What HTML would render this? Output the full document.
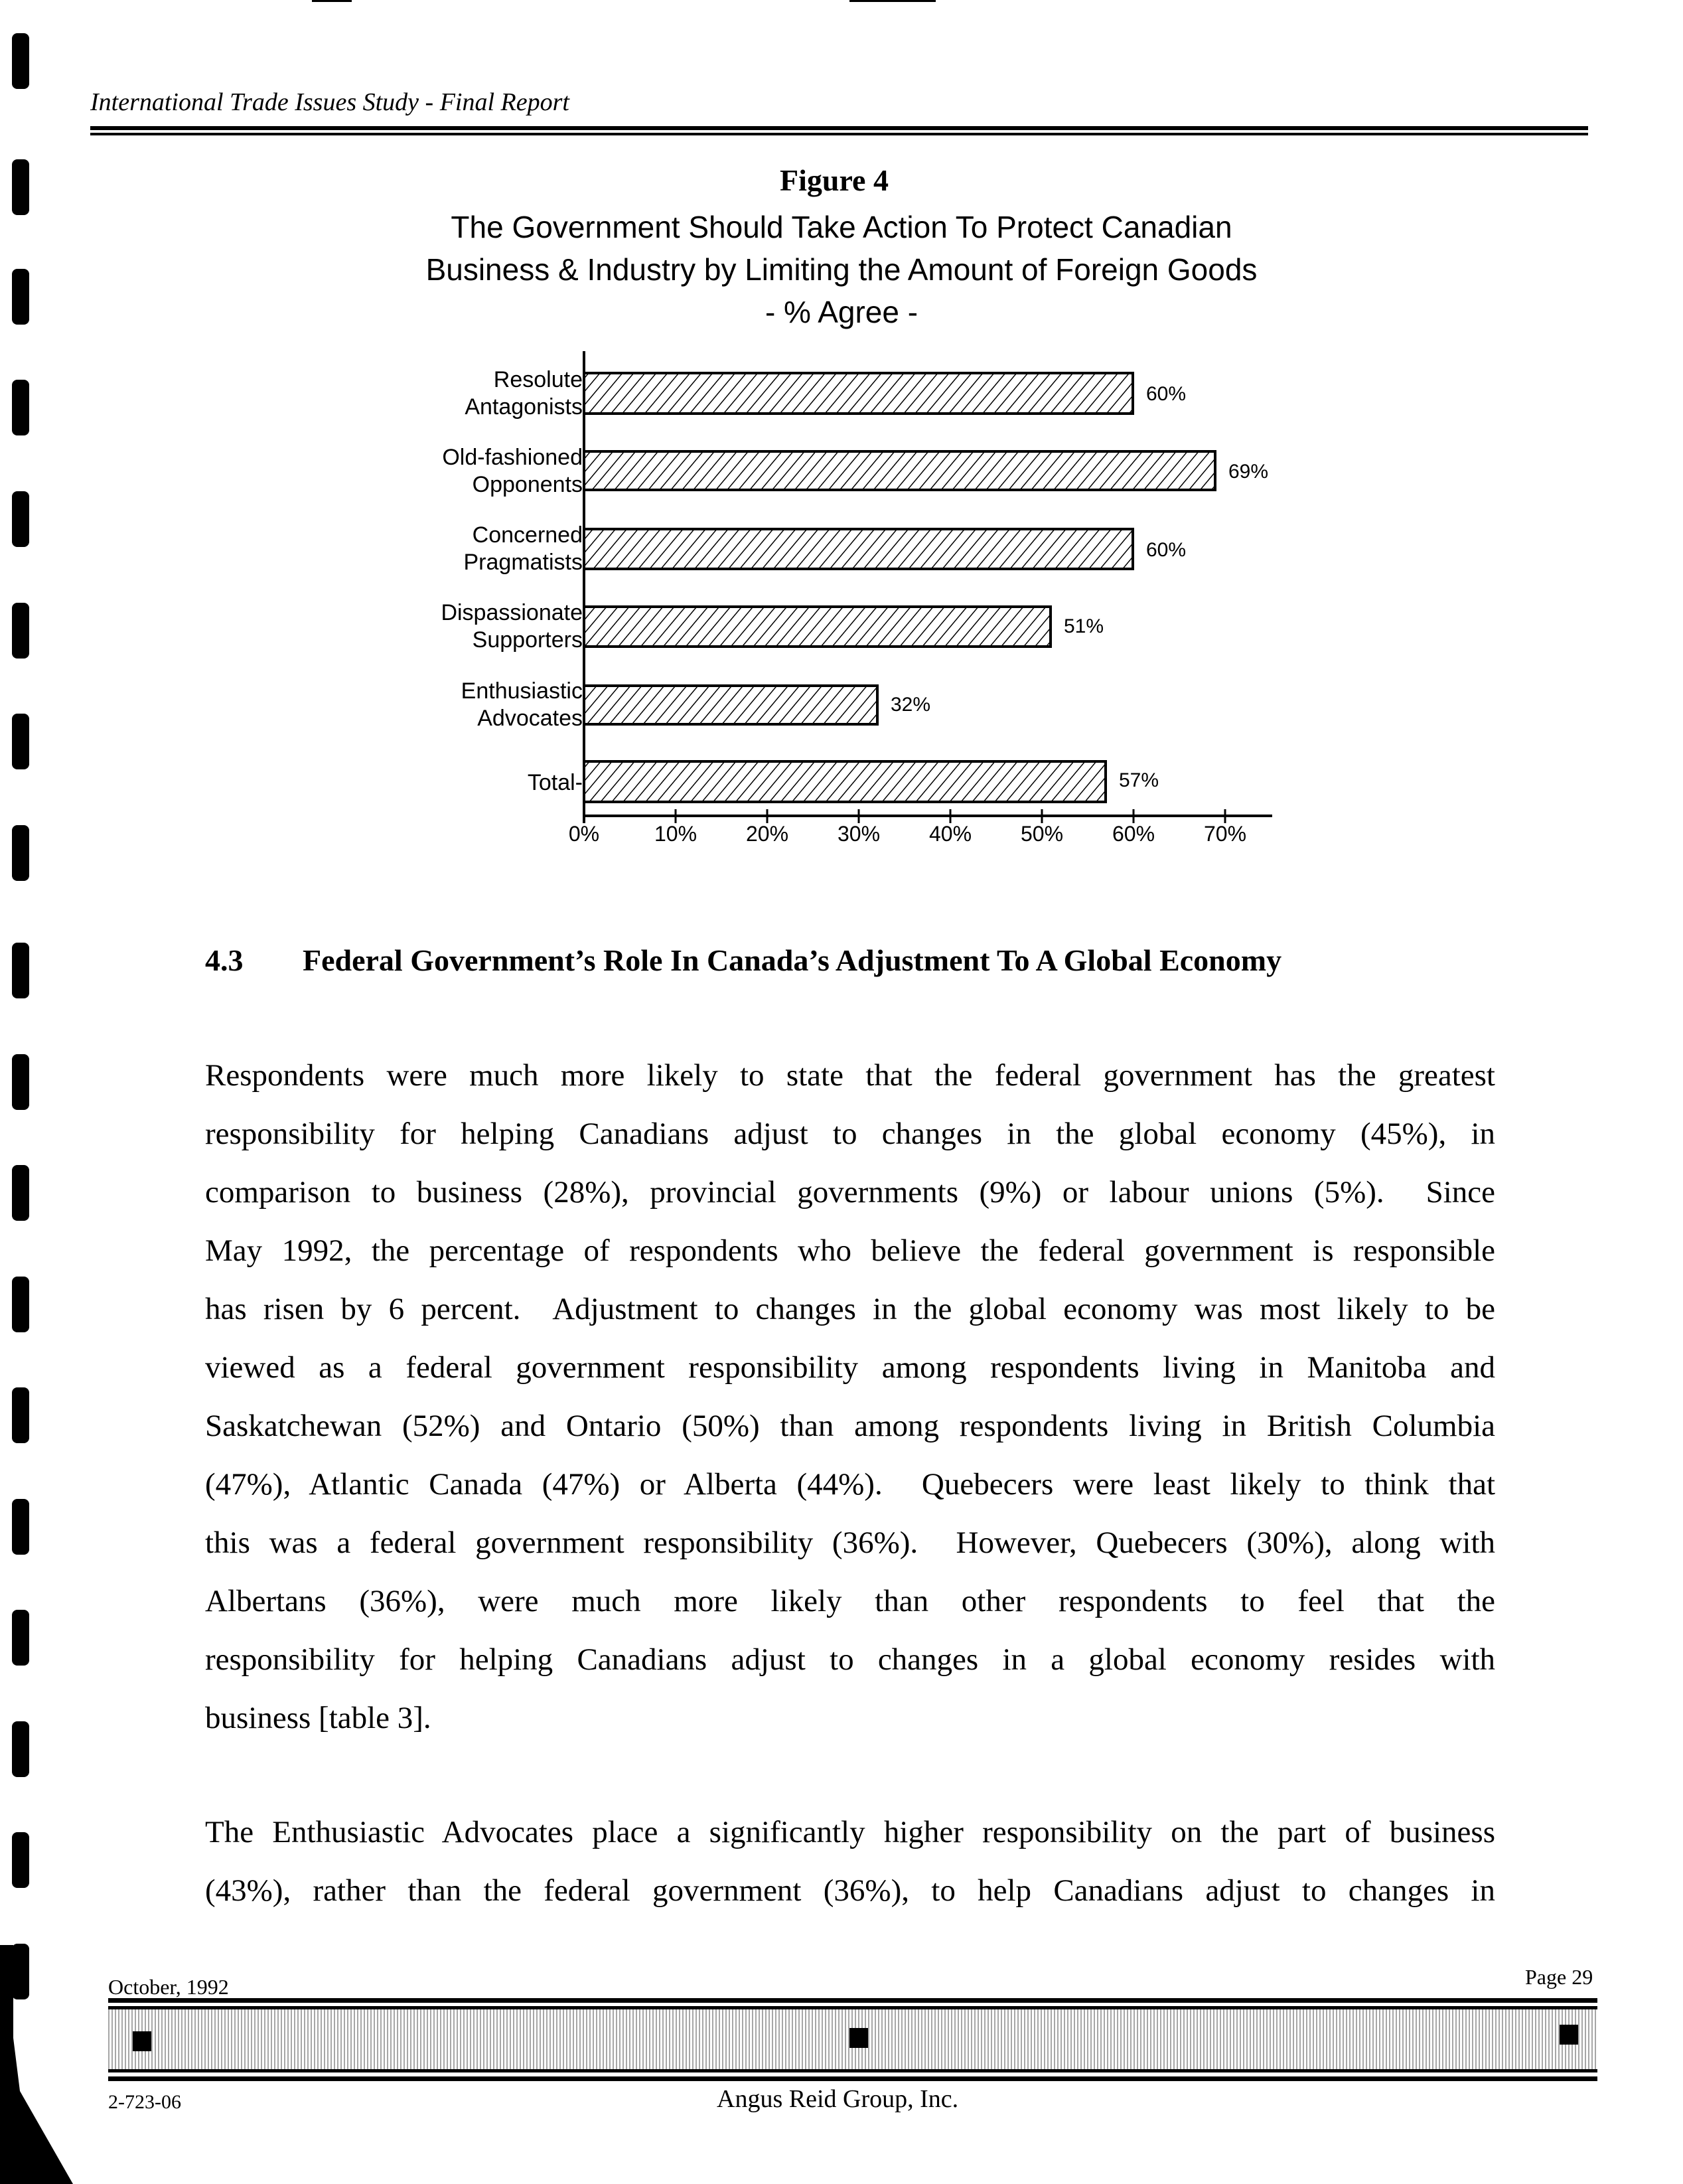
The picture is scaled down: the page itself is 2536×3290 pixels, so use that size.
<!DOCTYPE html>
<html><head><meta charset="utf-8"><style>
body{margin:0;width:2536px;height:3290px;background:#fff;position:relative;overflow:hidden;font-family:"Liberation Serif",serif;color:#000}
.a{position:absolute;white-space:nowrap}
.bm{position:absolute;left:18px;width:26px;height:84px;background:#000;border-radius:8px}
.s{font-family:"Liberation Sans",sans-serif}
.p{position:absolute;left:309px;width:1944px;font-size:47px;text-align:justify;text-align-last:justify;white-space:nowrap;line-height:88px}
</style></head><body>
<div class="bm" style="top:50px"></div><div class="bm" style="top:240px"></div><div class="bm" style="top:405px"></div><div class="bm" style="top:572px"></div><div class="bm" style="top:740px"></div><div class="bm" style="top:908px"></div><div class="bm" style="top:1075px"></div><div class="bm" style="top:1243px"></div><div class="bm" style="top:1420px"></div><div class="bm" style="top:1588px"></div><div class="bm" style="top:1755px"></div><div class="bm" style="top:1923px"></div><div class="bm" style="top:2090px"></div><div class="bm" style="top:2258px"></div><div class="bm" style="top:2425px"></div><div class="bm" style="top:2593px"></div><div class="bm" style="top:2760px"></div><div class="bm" style="top:2928px"></div>
<div class="a" style="left:470px;top:0;width:60px;height:3px;background:#000"></div>
<div class="a" style="left:1280px;top:0;width:130px;height:3px;background:#000"></div>
<div class="a" style="left:136px;top:132px;font-size:38px;font-style:italic">International Trade Issues Study - Final Report</div>
<div class="a" style="left:136px;top:190px;width:2257px;height:6px;background:#000"></div>
<div class="a" style="left:136px;top:200px;width:2257px;height:4px;background:#000"></div>
<div class="a" style="left:1175px;top:245px;font-size:46px;font-weight:bold">Figure 4</div>
<div class="a s" style="left:0;width:2536px;text-align:center;top:310px;font-size:46px;line-height:64px;white-space:normal">The Government Should Take Action To Protect Canadian<br>Business &amp; Industry by Limiting the Amount of Foreign Goods<br>- % Agree -</div>
<svg class="a" style="left:0;top:0" width="2536" height="1300">
<defs><pattern id="h" width="13" height="13" patternUnits="userSpaceOnUse" patternTransform="rotate(40)"><rect width="13" height="13" fill="#fff"/><line x1="0" y1="0" x2="0" y2="13" stroke="#000" stroke-width="3"/></pattern></defs>
<g stroke="#000" stroke-width="4" fill="url(#h)">
<rect x="880" y="562" width="827" height="61"/>
<rect x="880" y="680" width="951" height="58"/>
<rect x="880" y="797" width="827" height="60"/>
<rect x="880" y="914" width="703" height="60"/>
<rect x="880" y="1033" width="442" height="58"/>
<rect x="880" y="1147" width="786" height="61"/>
</g>
<line x1="880" y1="529" x2="880" y2="1240" stroke="#000" stroke-width="4"/>
<line x1="880" y1="1229" x2="1917" y2="1229" stroke="#000" stroke-width="4"/>
<g stroke="#000" stroke-width="3"><line x1="1018" y1="1219" x2="1018" y2="1240"/><line x1="1156" y1="1219" x2="1156" y2="1240"/><line x1="1294" y1="1219" x2="1294" y2="1240"/><line x1="1432" y1="1219" x2="1432" y2="1240"/><line x1="1570" y1="1219" x2="1570" y2="1240"/><line x1="1708" y1="1219" x2="1708" y2="1240"/><line x1="1846" y1="1219" x2="1846" y2="1240"/></g>
<g font-family="Liberation Sans, sans-serif" font-size="34" text-anchor="end">
<text x="878" y="583">Resolute</text><text x="878" y="624">Antagonists</text>
<text x="878" y="700">Old-fashioned</text><text x="878" y="741">Opponents</text>
<text x="878" y="817">Concerned</text><text x="878" y="858">Pragmatists</text>
<text x="878" y="934">Dispassionate</text><text x="878" y="975">Supporters</text>
<text x="878" y="1052">Enthusiastic</text><text x="878" y="1093">Advocates</text>
<text x="878" y="1190">Total-</text>
</g>
<g font-family="Liberation Sans, sans-serif" font-size="30">
<text x="1727" y="603">60%</text><text x="1851" y="720">69%</text><text x="1727" y="838">60%</text><text x="1603" y="953">51%</text><text x="1342" y="1071">32%</text><text x="1686" y="1185">57%</text>
</g>
<g font-family="Liberation Sans, sans-serif" font-size="32" text-anchor="middle">
<text x="880" y="1267">0%</text><text x="1018" y="1267">10%</text><text x="1156" y="1267">20%</text><text x="1294" y="1267">30%</text><text x="1432" y="1267">40%</text><text x="1570" y="1267">50%</text><text x="1708" y="1267">60%</text><text x="1846" y="1267">70%</text>
</g>
</svg>
<div class="a" style="left:309px;top:1420px;font-size:46px;font-weight:bold">4.3</div>
<div class="a" style="left:456px;top:1420px;font-size:46px;font-weight:bold">Federal Government’s Role In Canada’s Adjustment To A Global Economy</div>
<div class="p" style="top:1576px">Respondents were much more likely to state that the federal government has the greatest</div>
<div class="p" style="top:1664px">responsibility for helping Canadians adjust to changes in the global economy (45%), in</div>
<div class="p" style="top:1752px">comparison to business (28%), provincial governments (9%) or labour unions (5%).&nbsp; Since</div>
<div class="p" style="top:1840px">May 1992, the percentage of respondents who believe the federal government is responsible</div>
<div class="p" style="top:1928px">has risen by 6 percent.&nbsp; Adjustment to changes in the global economy was most likely to be</div>
<div class="p" style="top:2016px">viewed as a federal government responsibility among respondents living in Manitoba and</div>
<div class="p" style="top:2104px">Saskatchewan (52%) and Ontario (50%) than among respondents living in British Columbia</div>
<div class="p" style="top:2192px">(47%), Atlantic Canada (47%) or Alberta (44%).&nbsp; Quebecers were least likely to think that</div>
<div class="p" style="top:2280px">this was a federal government responsibility (36%).&nbsp; However, Quebecers (30%), along with</div>
<div class="p" style="top:2368px">Albertans (36%), were much more likely than other respondents to feel that the</div>
<div class="p" style="top:2456px">responsibility for helping Canadians adjust to changes in a global economy resides with</div>
<div class="a" style="left:309px;top:2544px;font-size:47px;line-height:88px">business [table 3].</div>
<div class="p" style="top:2716px">The Enthusiastic Advocates place a significantly higher responsibility on the part of business</div>
<div class="p" style="top:2804px">(43%), rather than the federal government (36%), to help Canadians adjust to changes in</div>
<div class="a" style="left:163px;top:2975px;font-size:32px">October, 1992</div>
<div class="a" style="left:2298px;top:2960px;font-size:32px">Page 29</div>
<div class="a" style="left:163px;top:3010px;width:2244px;height:7px;background:#000"></div>
<div class="a" style="left:163px;top:3022px;width:2244px;height:5px;background:#000"></div>
<div class="a" style="left:163px;top:3027px;width:2244px;height:90px;background:repeating-linear-gradient(90deg,#000 0 2px,#fff 2px 5px);opacity:.35"></div>
<div class="a" style="left:163px;top:3117px;width:2244px;height:5px;background:#000"></div>
<div class="a" style="left:163px;top:3128px;width:2244px;height:7px;background:#000"></div>
<div class="a" style="left:200px;top:3060px;width:28px;height:30px;background:#000"></div>
<div class="a" style="left:1280px;top:3055px;width:28px;height:30px;background:#000"></div>
<div class="a" style="left:2350px;top:3050px;width:28px;height:30px;background:#000"></div>
<div class="a" style="left:163px;top:3150px;font-size:30px">2-723-06</div>
<div class="a" style="left:1080px;top:3140px;font-size:38px">Angus Reid Group, Inc.</div>
<svg class="a" style="left:0;top:2930px" width="120" height="360"><polygon points="0,0 20,0 20,140 30,220 110,360 0,360" fill="#000"/></svg>
</body></html>
